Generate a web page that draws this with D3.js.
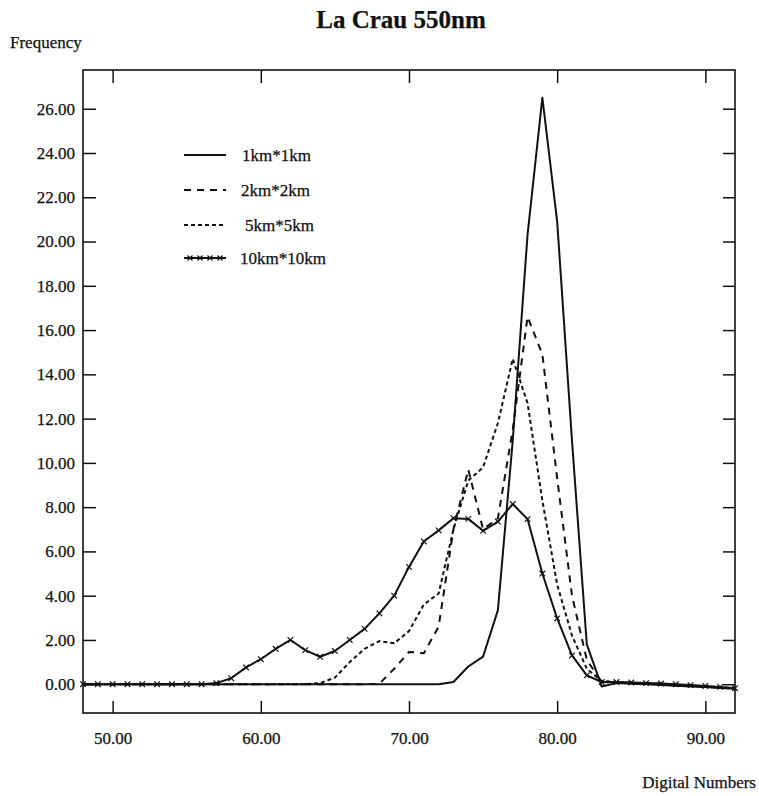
<!DOCTYPE html>
<html>
<head>
<meta charset="utf-8">
<script src="https://cdn.jsdelivr.net/npm/d3@7"></script>
<style>
  html, body { margin: 0; padding: 0; background: #fff; }
  svg { display: block; }
  text { font-family: "Liberation Serif", "Times New Roman", serif; fill: #111; stroke: #111; stroke-width: 0.25px; }
</style>
</head>
<body>
<svg id="chart" width="759" height="796"></svg>
<script>
// ---- data ----
const digitalNumbers = [48,49,50,51,52,53,54,55,56,57,58,59,60,61,62,63,64,65,66,67,68,69,70,
  71,72,73,74,75,76,77,78,79,80,81,82,83,84,85,86,87,88,89,90,91,92];

const freq1km = [0,0,0,0,0,0,0,0,0,0,0,0,0,0,0,0,0,0,0,0,0,0,0,0,0,
  0.1,0.8,1.25,3.35,11.0,20.3,26.5,20.9,11.0,1.8,
  -0.1,0.05,0.02,0.0,-0.03,-0.07,-0.1,-0.13,-0.17,-0.2];

const freq2km = [0,0,0,0,0,0,0,0,0,0,0,0,0,0,0,0,0,0,0,0,
  0.02,0.7,1.46,1.4,2.6,7.0,9.7,7.0,7.5,11.5,16.6,14.9,9.3,4.0,1.1,
  0.1,0.08,0.05,0.02,0.0,-0.05,-0.08,-0.12,-0.15,-0.2];

const freq5km = [0,0,0,0,0,0,0,0,0,0,0,0,0,0,0,0,
  0.05,0.3,1.0,1.6,1.95,1.85,2.4,3.6,4.1,7.0,9.2,9.8,11.8,14.7,12.7,8.3,4.5,2.2,0.7,
  0.15,0.1,0.07,0.04,0.02,-0.02,-0.06,-0.1,-0.14,-0.18];

const freq10km = [0,0,0,0,0,0,0,0,0,
  0.05,0.27,0.76,1.13,1.6,2.0,1.54,1.24,1.5,2.0,2.5,3.2,4.0,5.3,6.45,6.95,7.5,7.47,6.93,7.35,8.14,7.46,5.0,2.97,1.3,0.4,
  0.1,0.1,0.08,0.05,0.03,0.0,-0.04,-0.08,-0.12,-0.18];

const seriesNames = ["1km*1km", "2km*2km", "5km*5km", "10km*10km"];
const xTicks = [50, 60, 70, 80, 90];
const yTicks = [0,2,4,6,8,10,12,14,16,18,20,22,24,26];

const title = "La Crau 550nm";
const yTitle = "Frequency";
const xTitle = "Digital Numbers";

// ---- layout ----
const svg = d3.select("#chart");
const L = 83, R = 735, T = 70, B = 713;

const x = d3.scaleLinear().domain([48, 92]).range([L, R]);
const y = d3.scaleLinear().domain([-1.3, 27.75]).range([B, T]);
const fmt = d3.format(".2f");

// titles
svg.append("text").attr("x", 401).attr("y", 28).attr("text-anchor", "middle")
  .attr("font-size", 25).attr("font-weight", "bold").text(title);
svg.append("text").attr("x", 10).attr("y", 48).attr("font-size", 17).text(yTitle);
svg.append("text").attr("x", 756).attr("y", 788).attr("text-anchor", "end")
  .attr("font-size", 17).text(xTitle);

// frame
svg.append("rect").attr("x", L).attr("y", T).attr("width", R - L).attr("height", B - T)
  .attr("fill", "none").attr("stroke", "#111").attr("stroke-width", 1.6);

function styleAxis(g) {
  g.select(".domain").remove();
  g.selectAll(".tick line").attr("stroke", "#111").attr("stroke-width", 1.5);
  g.selectAll(".tick text").attr("font-size", 17).attr("fill", "#111")
    .attr("font-family", "Liberation Serif, Times New Roman, serif");
}

svg.append("g").attr("transform", `translate(0,${B})`)
  .call(d3.axisBottom(x).tickValues(xTicks).tickFormat(fmt).tickSizeInner(-12).tickSizeOuter(0).tickPadding(19))
  .call(styleAxis);
svg.append("g").attr("transform", `translate(0,${T})`)
  .call(d3.axisTop(x).tickValues(xTicks).tickFormat("").tickSizeInner(-13).tickSizeOuter(0))
  .call(styleAxis);
svg.append("g").attr("transform", `translate(${L},0)`)
  .call(d3.axisLeft(y).tickValues(yTicks).tickFormat(fmt).tickSizeInner(-13).tickSizeOuter(0).tickPadding(8))
  .call(styleAxis);
svg.append("g").attr("transform", `translate(${R},0)`)
  .call(d3.axisRight(y).tickValues(yTicks).tickFormat("").tickSizeInner(-12).tickSizeOuter(0))
  .call(styleAxis);

// series
const dashes = [null, "7,6", "4,3", null];
const allSeries = [freq1km, freq2km, freq5km, freq10km];
const line = d3.line().x(d => x(d[0])).y(d => y(d[1]));

const plot = svg.append("g");
allSeries.forEach((vals, i) => {
  const pts = digitalNumbers.map((dn, j) => [dn, vals[j]]);
  plot.append("path").datum(pts).attr("d", line)
    .attr("fill", "none").attr("stroke", "#111").attr("stroke-width", 2)
    .attr("stroke-linejoin", "round")
    .attr("stroke-dasharray", dashes[i]);
  if (i === 3) {
    const s = 2.8;
    plot.selectAll(".mk").data(pts).enter().append("path")
      .attr("d", d => `M${x(d[0]) - s},${y(d[1]) - s}L${x(d[0]) + s},${y(d[1]) + s}M${x(d[0]) - s},${y(d[1]) + s}L${x(d[0]) + s},${y(d[1]) - s}`)
      .attr("stroke", "#111").attr("stroke-width", 1.2);
  }
});

// legend
const legY = [155, 190, 225, 258];
const legTX = [242, 241, 245, 240];
const leg = svg.append("g");
seriesNames.forEach((name, i) => {
  leg.append("line").attr("x1", 184).attr("x2", 226).attr("y1", legY[i]).attr("y2", legY[i])
    .attr("stroke", "#111").attr("stroke-width", 2).attr("stroke-dasharray", dashes[i]);
  if (i === 3) {
    [190, 200, 210, 220].forEach(mx => {
      leg.append("path").attr("d", `M${mx - 2.5},${legY[i] - 2.5}L${mx + 2.5},${legY[i] + 2.5}M${mx - 2.5},${legY[i] + 2.5}L${mx + 2.5},${legY[i] - 2.5}`)
        .attr("stroke", "#111").attr("stroke-width", 1.2);
    });
  }
  leg.append("text").attr("x", legTX[i]).attr("y", legY[i] + 6).attr("font-size", 17).text(name);
});
</script>
</body>
</html>
